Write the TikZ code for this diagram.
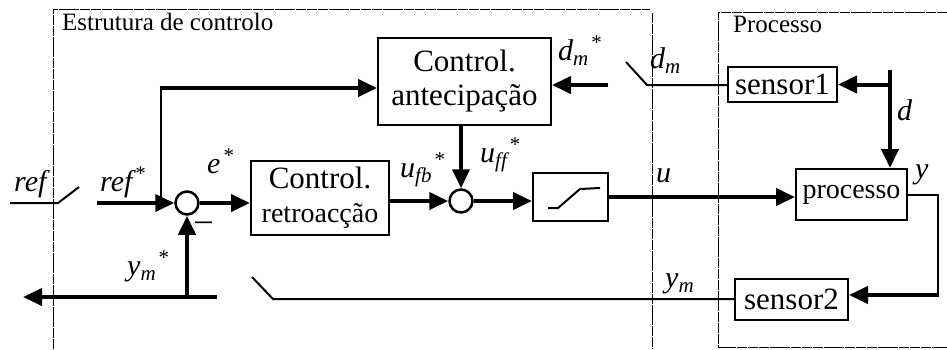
\documentclass[tikz,border=0pt]{standalone}
\usepackage{fontspec}
\setmainfont{Liberation Serif}
\usetikzlibrary{arrows.meta}
\newcommand{\subx}[1]{\raisebox{-5pt}{\fontsize{21}{21}\selectfont\itshape #1}}
\newcommand{\supstar}{\hspace{2pt}\raisebox{11pt}{\fontsize{21}{21}\selectfont *}}
\begin{document}
\begin{tikzpicture}[x=1pt,y=-1pt,
  blk/.style={draw,line width=2pt,inner sep=0pt,align=center,font=\fontsize{31}{34}\selectfont},
  sumj/.style={draw,circle,line width=2.5pt,minimum size=23pt,inner sep=0pt,fill=white},
  thk/.style={line width=4pt},
  thn/.style={line width=2pt},
  arr/.style={-{Triangle[length=19pt,width=17pt]}},
  lbl/.style={anchor=base west,inner sep=0pt,font=\fontsize{30}{30}\selectfont\itshape},
  ttl/.style={anchor=base west,inner sep=0pt,font=\fontsize{25}{25}\selectfont},
  grp/.style={line width=1pt,dash pattern=on 10pt off 0.8pt}]
\useasboundingbox (0,0) rectangle (947,349);
% group frames
\draw[grp] (53,349) -- (53,9) -- (650,9);
\draw[grp] (652,13) -- (652,349);
\draw[grp] (947,12) -- (718,12) -- (718,347) -- (947,347);
\node[ttl] (t1) at (62,30) {Estrutura de controlo};
\node[ttl] (t2) at (733,32) {Processo};
% blocks
\node[blk,minimum width=173pt,minimum height=87pt] (ant) at (464.5,81.5) {Control.\\antecipação};
\node[blk,minimum width=138pt,minimum height=74pt] (ret) at (320,198) {Control.\\{\fontsize{28}{30}\selectfont retroacção}};
\node[blk,minimum width=75pt,minimum height=48pt] (sat) at (570.5,197) {};
\node[blk,minimum width=111pt,minimum height=51pt,font=\fontsize{28}{30}\selectfont] (proc) at (851.5,194.5) {processo};
\node[blk,minimum width=109pt,minimum height=35pt] (sen1) at (782.5,84.5) {sensor1};
\node[blk,minimum width=113pt,minimum height=41pt] (sen2) at (791.5,299.5) {sensor2};
\node[sumj] (s1) at (187,203) {};
\node[sumj] (s2) at (461,201) {};
% saturation symbol
\draw[thn] (548,208) -- (558,208) -- (580,189) -- (600,188);
% coordinates
\coordinate (r0) at (10,203);
\coordinate (r1) at (58,203);
\coordinate (r2) at (79,187);
\coordinate (rs) at (97,203);
\coordinate (br) at (161,203);
\coordinate (br2) at (161,88);
\coordinate (ymr) at (217,297);
\coordinate (yml) at (23,297);
\coordinate (ymj) at (187,297);
\coordinate (dms) at (608,85);
\coordinate (dw1) at (626,62);
\coordinate (dw2) at (647,85);
\coordinate (dt) at (890,70);
\coordinate (dj) at (890,84.5);
\coordinate (pc) at (938,195);
\coordinate (pc2) at (938,295);
\coordinate (yw1) at (273,299);
\coordinate (yw2) at (252,277);
% connectors
\draw[thn] (r0) -- (r1) -- (r2);
\draw[thk,arr] (rs) -- (s1.west);
\draw[line width=2.5pt] (br) -- (br2);
\draw[thk,arr] ([xshift=-1.25pt]br2) -- (br2 -| ant.west);
\draw[thk,arr] (s1.east) -- (ret.west |- s1.east);
\draw[thk,arr] (ymr) -- (yml);
\draw[thk,arr] (ymj) -- (s1.south);
\draw[thk,arr] (ret.east |- s2.west) -- (s2.west);
\draw[thk,arr] (ant.south -| s2.north) -- (s2.north);
\draw[thk,arr] (s2.east) -- (sat.west |- s2.east);
\draw[thk,arr] (sat.east) -- (proc.west |- sat.east);
\draw[thk,arr] (dms) -- (dms -| ant.east);
\draw[thn] (dw1) -- (dw2) -- (dw2 -| sen1.west);
\draw[thk,arr] (dt) -- (dt |- proc.north);
\draw[thk,arr] (dj) -- (sen1.east);
\draw[thn] (proc.east |- pc) -- (pc) -- (pc2);
\draw[thk,arr] ([xshift=1pt]pc2) -- (pc2 -| sen2.east);
\draw[thn] (sen2.west |- yw1) -- (yw1) -- (yw2);
% labels
\node[lbl] (lref) at (14,191) {ref};
\node[lbl] (lrefs) at (100,191) {ref\supstar};
\node[lbl] (le) at (207,173) {e\supstar};
\node[font=\fontsize{33}{33}\selectfont,inner sep=0pt] (lminus) at (203.5,226) {–};
\node[lbl] (lym) at (127,275) {y\subx{m}\supstar};
\node[lbl] (lufb) at (400,177) {u\subx{fb}\supstar};
\node[lbl] (luff) at (480,162) {u\subx{ff}\supstar};
\node[lbl] (ldms) at (558,60) {d\subx{m}\supstar};
\node[lbl] (ldm) at (650,68) {d\subx{m}};
\node[lbl] (lu) at (656,182) {u};
\node[lbl] (lym2) at (665,287) {y\subx{m}};
\node[lbl] (ld) at (897,120) {d};
\node[lbl] (ly) at (915,178) {y};
\end{tikzpicture}
\end{document}
